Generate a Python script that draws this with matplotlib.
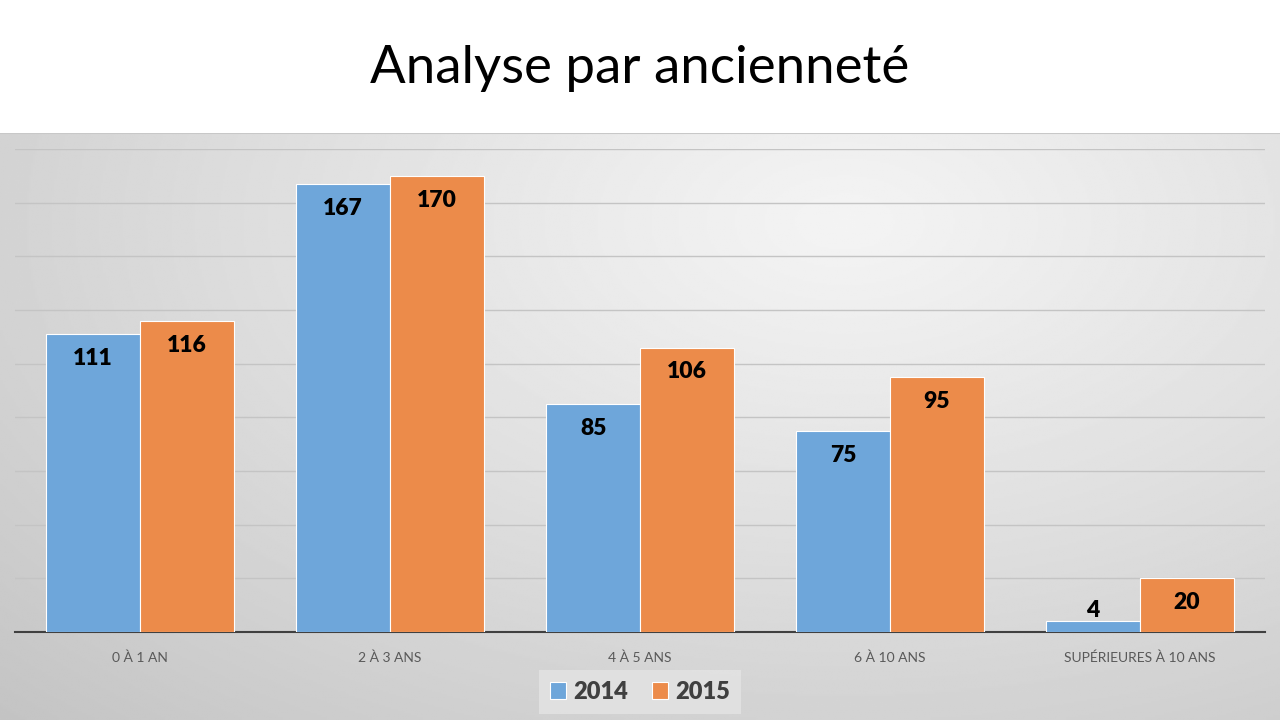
import numpy as np
import matplotlib.pyplot as plt

categories = ["0 À 1 AN", "2 À 3 ANS", "4 À 5 ANS", "6 À 10 ANS", "SUPÉRIEURES À 10 ANS"]
v2014 = [111, 167, 85, 75, 4]
v2015 = [116, 170, 106, 95, 20]
series = ["2014", "2015"]

plt.rcParams['font.family'] = ['Lato', 'DejaVu Sans']

fig = plt.figure(figsize=(12.8, 7.2), dpi=100)

# fond dégradé (zone grise sous le titre)
bg_top = (720 - 133) / 720
bg = fig.add_axes([0, 0, 1, bg_top])
yy, xx = np.mgrid[0:1:300j, 0:1:600j]
d = np.sqrt(((xx - 0.66) / 0.95) ** 2 + ((yy - 0.85) / 1.2) ** 2)
d = np.clip(d, 0, 1)
img = 0.955 - 0.19 * d ** 1.1
bg.imshow(img, cmap='gray', vmin=0, vmax=1, origin='lower', aspect='auto', extent=[0, 1, 0, 1])
bg.axhline(1, color='#c8c8c8', lw=1.5)
bg.set_axis_off()

fig.text(0.5, 1 - 68 / 720, "Analyse par ancienneté", ha='center', va='center',
         fontsize=38, color='black')

ax = fig.add_axes([15 / 1280, 88 / 720, 1250 / 1280, (632 - 149) / 720])
ax.patch.set_alpha(0)
x = np.arange(len(categories))
w = 0.375
b1 = ax.bar(x - w / 2, v2014, w, color='#6ea6da', edgecolor='white', linewidth=0.8, label=series[0], zorder=3)
b2 = ax.bar(x + w / 2, v2015, w, color='#ec8b4a', edgecolor='white', linewidth=0.8, label=series[1], zorder=3)

for bars in (b1, b2):
    for r in bars:
        h = r.get_height()
        cx = r.get_x() + r.get_width() / 2
        if h < 10:
            ax.annotate(str(int(h)), (cx, h), xytext=(0, 0), textcoords='offset points',
                        ha='center', va='bottom', fontsize=16.5, fontweight='heavy', zorder=4)
        else:
            ax.annotate(str(int(h)), (cx, h), xytext=(0, -10), textcoords='offset points',
                        ha='center', va='top', fontsize=16.5, fontweight='heavy', zorder=4)

ax.set_xlim(-0.5, len(categories) - 0.5)
ax.set_ylim(0, 180)
ax.set_yticks(np.arange(20, 181, 20))
ax.yaxis.grid(True, color='#c4c4c4', lw=1)
ax.set_axisbelow(True)
ax.tick_params(axis='y', left=False, labelleft=False)
ax.tick_params(axis='x', length=0, pad=14, labelsize=10, labelcolor='#595959')
ax.set_xticks(x)
ax.set_xticklabels(categories)
for s in ['top', 'right', 'left']:
    ax.spines[s].set_visible(False)
ax.spines['bottom'].set_color('#404040')
ax.spines['bottom'].set_linewidth(1.5)

leg = fig.legend(handles=[b1, b2], labels=series, loc='center', bbox_to_anchor=(0.5, 28 / 720),
                 ncol=2, frameon=True, fancybox=False, handlelength=0.7, handleheight=0.7,
                 handletextpad=0.3, columnspacing=1.0, borderpad=0.45,
                 prop={'size': 17, 'weight': 'heavy'})
leg.get_frame().set_facecolor('#e4e4e4')
leg.get_frame().set_edgecolor('none')
for t in leg.get_texts():
    t.set_color('#404040')

fig.savefig('out.png', dpi=100)
